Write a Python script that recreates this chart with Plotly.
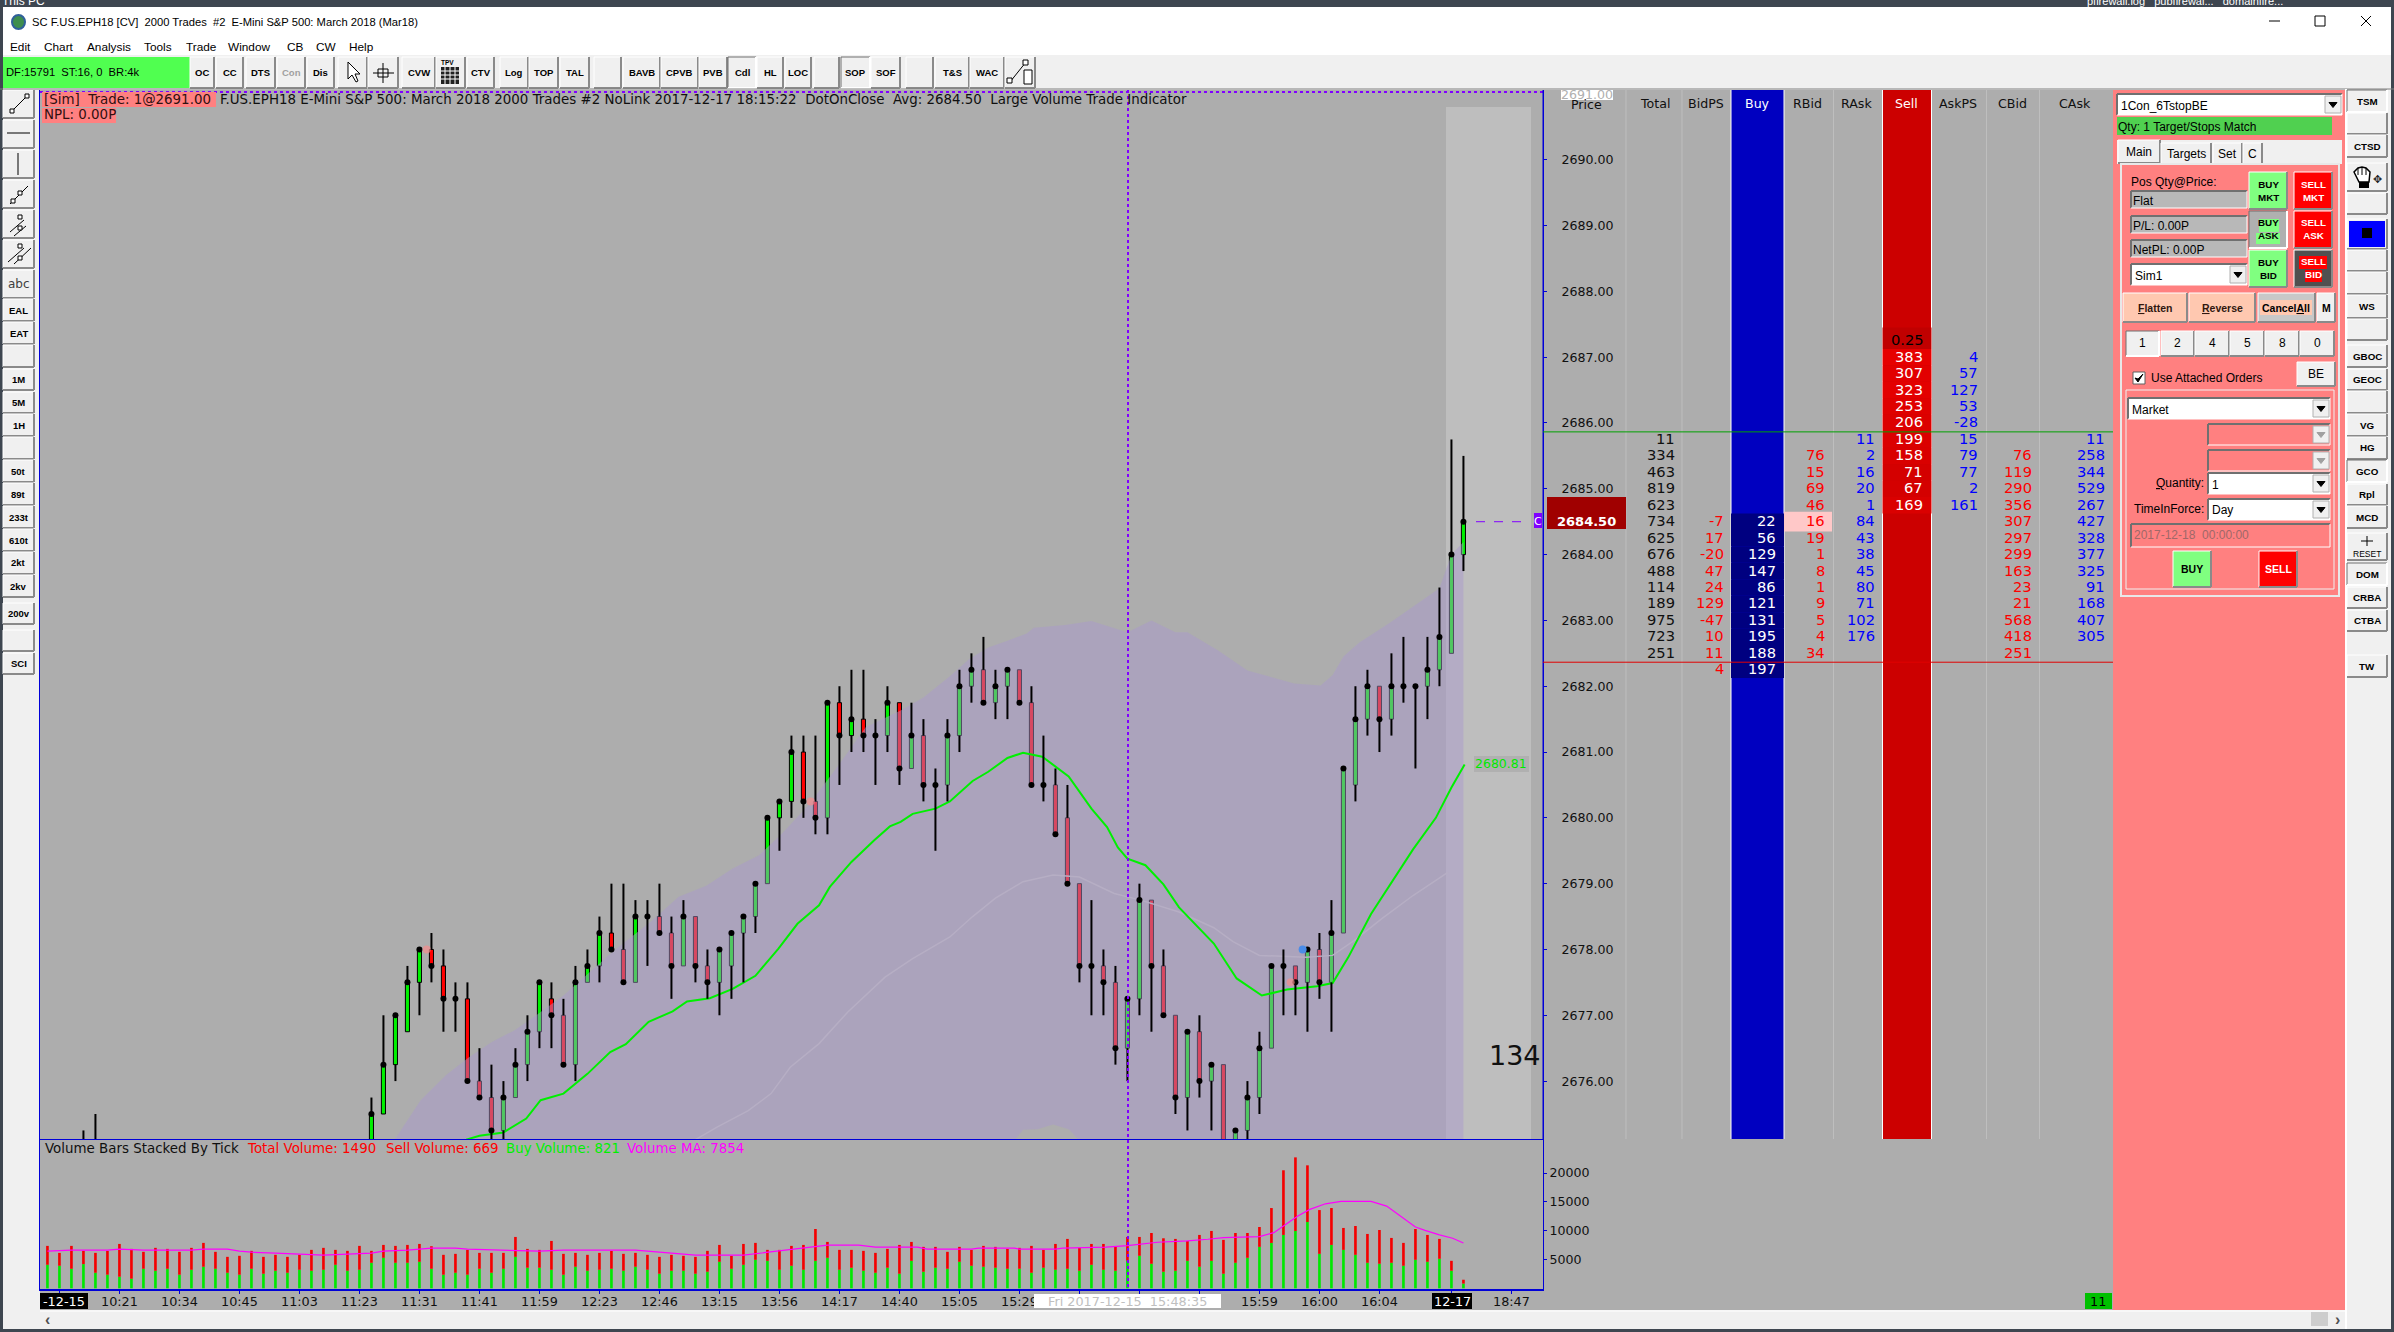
#!/usr/bin/env python3
# -*- coding: utf-8 -*-
import plotly.graph_objects as go

# ---- chart data ----
bar_idx = [3, 4] + list(range(27, 119))
bar_open = [2675, 2675, 2675, 2675.5, 2676.25, 2676.75, 2677.5, 2678, 2677.75, 2677.25,
            2677.25, 2676, 2675.75, 2675.25, 2675.75, 2676.25, 2676.75, 2677.25, 2677, 2676.25,
            2677.5, 2677.75, 2678.25, 2678, 2677.5, 2678.5, 2678.5, 2678.25, 2677.75, 2678.5,
            2677.75, 2677.5, 2677.75, 2678.25, 2678.5, 2679, 2680, 2680.25, 2681, 2680.25,
            2680, 2681.75, 2681.25, 2681.5, 2681.25, 2681.25, 2681.75, 2680.75, 2681.25, 2680.5,
            2680.5, 2681.25, 2682, 2682.25, 2681.75, 2682, 2682.25, 2681.75, 2680.5, 2680.5,
            2680, 2679, 2677.75, 2677.75, 2677.5, 2676.5, 2677.25, 2678.75, 2677.75, 2677,
            2675.75, 2676.75, 2676, 2676.25, 2675, 2675.25, 2675.75, 2676.5, 2677.75, 2677.75,
            2677.5, 2678, 2677.5, 2678.25, 2680.5, 2681.5, 2682, 2681.5, 2682, 2682,
            2682, 2682.25, 2682.5, 2684]
bar_high = [2675.25, 2675.5, 2675.75, 2677, 2677, 2677.75, 2678, 2678.25, 2678, 2677.5,
            2677.5, 2676.5, 2676.25, 2676, 2676.5, 2677, 2677.5, 2677.5, 2677.25, 2677.75,
            2678, 2678.5, 2679, 2679, 2678.75, 2678.75, 2679, 2678.5, 2678.75, 2678.5,
            2678, 2678, 2678.25, 2678.5, 2679, 2680, 2680.25, 2681.25, 2681.25, 2681.25,
            2681.75, 2682, 2682.25, 2682.25, 2681.5, 2682, 2681.75, 2681.75, 2681.5, 2680.75,
            2681.5, 2682.25, 2682.5, 2682.75, 2682.25, 2682.25, 2682.25, 2682, 2681.25, 2680.75,
            2680.5, 2679, 2678.75, 2678, 2677.75, 2677.25, 2679, 2678.75, 2678, 2677,
            2676.75, 2677, 2676.25, 2676.25, 2675.25, 2676, 2676.75, 2677.75, 2678, 2677.75,
            2678, 2678.25, 2678.75, 2680.75, 2682, 2682.25, 2682, 2682.5, 2682.75, 2682,
            2682.75, 2683.5, 2685.75, 2685.5]
bar_low = [2674.75, 2674.75, 2674.75, 2675.5, 2676, 2676.75, 2677, 2677.5, 2676.75, 2676.75,
           2676, 2675.75, 2675, 2675, 2675.75, 2676, 2676.5, 2676.5, 2676.25, 2676,
           2677.5, 2677.5, 2678, 2677.5, 2677.5, 2677.75, 2678.25, 2677.25, 2677.75, 2677.5,
           2677.25, 2677, 2677.25, 2677.5, 2678.25, 2679, 2679.5, 2680, 2680, 2679.75,
           2679.75, 2680.5, 2681, 2681, 2680.5, 2681, 2680.5, 2680.75, 2680.25, 2679.5,
           2680.25, 2681, 2681.75, 2681.75, 2681.5, 2681.5, 2681.75, 2680.5, 2680.25, 2679.75,
           2679, 2677.5, 2677, 2677, 2676.25, 2676, 2677, 2676.75, 2677, 2675.5,
           2675.25, 2675.75, 2675.25, 2675, 2675, 2675, 2675.5, 2676.5, 2677, 2677,
           2676.75, 2677.25, 2676.75, 2678.25, 2680.25, 2681.25, 2681, 2681.25, 2681.75, 2680.75,
           2681.5, 2682, 2682.5, 2683.75]
bar_close = [2675, 2675, 2675.5, 2676.25, 2677, 2677.5, 2678, 2677.75, 2677.25, 2677.25,
             2676, 2675.75, 2675.25, 2675.75, 2676.25, 2676.75, 2677.5, 2677, 2676.25, 2677.5,
             2677.75, 2678.25, 2678, 2677.5, 2678.5, 2678.5, 2678.25, 2677.75, 2678.5, 2677.75,
             2677.5, 2678, 2678.25, 2678.5, 2679, 2680, 2680.25, 2681, 2680.25, 2680,
             2681.75, 2681.25, 2681.5, 2681.25, 2681.25, 2681.75, 2680.75, 2681.25, 2680.5, 2680.5,
             2681.25, 2682, 2682.25, 2681.75, 2682, 2682.25, 2681.75, 2680.5, 2680.5, 2679.75,
             2679, 2677.75, 2677.75, 2677.5, 2676.5, 2677.25, 2678.75, 2677.75, 2677, 2675.75,
             2676.75, 2676, 2676.25, 2675, 2675.25, 2675.75, 2676.5, 2677.75, 2677.75, 2677.5,
             2678, 2677.5, 2678.25, 2680.75, 2681.5, 2682, 2681.5, 2682, 2682, 2682,
             2682.25, 2682.75, 2684, 2684.5]

band_x = [28.5, 28.9, 31.1, 33.2, 35.1, 37, 38.9, 40.5, 43, 45, 47.2, 50.4, 52.6, 54.9, 57.1, 59.3, 61.2, 63.5, 66, 68.2,
          71.1, 73, 75.2, 76.8, 78.4, 80, 81.6, 82.2, 84.8, 87, 88.6, 90, 92, 94, 95, 97.5, 100, 101.3, 103.9,
          106.1, 107.1, 108, 109.3, 111.9, 113.8, 116, 117, 118]
band_upper = [2674.9, 2675.1, 2675.71, 2676.09, 2676.36, 2676.59, 2676.77, 2676.97, 2677.3, 2677.63, 2677.98, 2678.44,
              2678.8, 2678.97, 2679.23, 2679.43, 2679.76, 2680.21, 2680.82, 2681.38, 2681.63, 2681.83, 2682.15,
              2682.41, 2682.59, 2682.69, 2682.8, 2682.89, 2682.93, 2682.99, 2682.9, 2682.82, 2683.0, 2682.82, 2682.82,
              2682.55, 2682.24, 2682.17, 2682.04, 2682.01, 2682.17, 2682.45, 2682.66, 2682.97, 2683.21, 2683.49, 2684.0, 2684.19]
band_lower_x = [28.5, 80, 80.6, 81.3, 82.5, 83.8, 85.1, 86, 87, 118]
band_lower = [2674.5, 2674.9, 2675.1, 2675.26, 2675.27, 2675.34, 2675.27, 2675.1, 2674.9, 2674.5]

ema_x = [34.9, 36, 38, 39.9, 41.1, 43, 45, 46.9, 48.2, 50.1, 52.1, 53.3, 55.2, 57.1, 59, 60.9, 62.5, 64.3, 65.2, 67, 68.9,
         70.2, 71.1, 72.1, 74, 75.2, 77.1, 78.4, 80, 81.3, 82.9, 85.1, 87, 88.3, 89.2, 90, 91.5, 93, 94.3, 95.9, 97.2, 99.1,
         101.2, 103.3, 105.8, 107.1, 108.4, 110.3, 111.9, 113.8, 115.7, 117, 118.1]
ema_y = [2675.11, 2675.17, 2675.22, 2675.43, 2675.71, 2675.81, 2676.11, 2676.44, 2676.56, 2676.9, 2677.06, 2677.21, 2677.26,
         2677.4, 2677.6, 2678.01, 2678.39, 2678.67, 2678.95, 2679.33, 2679.66, 2679.87, 2679.94, 2680.06, 2680.14, 2680.25,
         2680.56, 2680.7, 2680.91, 2680.99, 2680.93, 2680.63, 2680.14, 2679.86, 2679.55, 2679.38, 2679.28, 2678.99, 2678.64,
         2678.33, 2678.09, 2677.56, 2677.3, 2677.39, 2677.44, 2677.49, 2677.88, 2678.54, 2678.99, 2679.52, 2680.0, 2680.46, 2680.81]

mid_x = [53.9, 55.8, 58.4, 60.3, 61.9, 64.3, 66.7, 69.8, 72.1, 75.2, 77.1, 79, 81.3, 83.8, 86, 88.9, 91.1, 94.3, 97.2, 98.8,
         101, 104.9, 107.1, 109, 111.2, 113.8, 116.7]
mid_y = [2675.1, 2675.3, 2675.55, 2675.81, 2676.21, 2676.57, 2677.05, 2677.58, 2677.86, 2678.19, 2678.5, 2678.78, 2679.03,
         2679.13, 2679.1, 2678.85, 2678.75, 2678.57, 2678.33, 2678.12, 2677.91, 2677.88, 2677.91, 2678.15, 2678.47, 2678.82, 2679.17]

big_sell_x = [31.6, 63.6, 103.6]
big_sell_y = [2678.0, 2680.25, 2677.5]
big_buy_x = [104.6]
big_buy_y = [2678.0]

vol_total = [7360, 6150, 7360, 6500, 6150, 6500, 7700, 6840, 6330, 7020,
             6840, 6330, 7020, 7880, 6330, 5460, 5640, 6500, 5460, 5810,
             5460, 5810, 6670, 7020, 6670, 6500, 7360, 6500, 7530, 7360,
             7530, 7700, 7300, 5810, 5980, 6670, 6150, 6150, 6150, 8910,
             6840, 6670, 8220, 5980, 6150, 5810, 6150, 6500, 5980, 6150,
             5810, 5460, 5810, 5640, 5460, 6500, 7530, 5640, 7700, 7880,
             6670, 6670, 7360, 7530, 10290, 8050, 6670, 6670, 6500, 6150,
             6840, 7530, 8050, 7190, 7190, 6330, 7190, 6670, 7360, 7190,
             6840, 7020, 7360, 6670, 7700, 8570, 7020, 7700, 7700, 7190,
             8910, 8910, 9600, 8680, 8570, 8220, 9260, 9950, 8400, 9600,
             9600, 10640, 13920, 20470, 22710, 21330, 13570, 13920, 10470, 10810,
             9430, 10120, 8740, 7880, 10290, 9260, 8570, 4770, 1490]
vol_buy = [4080, 3910, 3390, 4200, 2700, 2360, 2010, 1670, 3390, 3050,
           3390, 2360, 3220, 3740, 3390, 2700, 2360, 3390, 2530, 3050,
           2700, 3220, 3050, 3220, 4080, 3050, 3220, 4430, 5290, 4430,
           4430, 4600, 3390, 2360, 2700, 2360, 3390, 2700, 3390, 5460,
           3570, 3570, 3220, 2360, 3740, 3050, 3220, 3390, 3050, 3740,
           3220, 2530, 3050, 3050, 2530, 2880, 4600, 3390, 4080, 4950,
           4770, 3220, 3910, 3220, 4770, 5290, 3220, 3570, 3050, 2700,
           3570, 2530, 4770, 2880, 3570, 3390, 4600, 3910, 3740, 3570,
           3390, 3390, 2700, 3570, 3220, 3390, 3050, 4080, 3220, 3050,
           4770, 5640, 4260, 2880, 3050, 4770, 3740, 4770, 2530, 4430,
           5290, 7190, 7880, 9260, 9950, 11500, 5980, 7530, 6670, 5810,
           4430, 4260, 4430, 3910, 4950, 4600, 5120, 3050, 821]
vol_sell = [t - b for t, b in zip(vol_total, vol_buy)]

vol_ma_x = [0, 2, 5, 6, 8, 12, 13, 15, 16, 17, 19, 21, 23, 25, 27, 28, 30, 32, 34, 35, 38, 41, 43, 49, 51, 54, 58, 60, 62.7,
            64, 65, 67.6, 69, 72.5, 73.3, 77, 77.6, 80.6, 81, 84, 84.6, 88.2, 90, 92.5, 95, 96.7, 98, 101, 102.2, 103, 104.2,
            105.2, 106.5, 107.8, 110.3, 111.6, 112.9, 114, 114.8, 116, 117.1, 118]
vol_ma = [6440, 6610, 6610, 6790, 6610, 6610, 6790, 6790, 6440, 6270, 6100, 5920, 5750, 5920, 6100, 6440, 6610, 6960, 6960, 6790,
          6610, 6440, 6610, 6610, 6270, 5750, 5750, 6270, 6900, 7300, 7480, 7480, 7130, 7130, 6790, 6790, 6960, 6960, 6790, 6790,
          6960, 7130, 7420, 7990, 8220, 8510, 8800, 8970, 9660, 10810, 12540, 13690, 14660, 15070, 15070, 14260, 12250, 10640,
          10060, 9260, 8680, 7854]

time_tick_idx = [1, 6, 11, 16, 21, 26, 31, 36, 41, 46, 51, 56, 61, 66, 71, 76, 81, 86, 91, 96, 101, 106, 111, 117, 122]
time_tick_text = ["", "10:21", "10:34", "10:45", "11:03", "11:23", "11:31", "11:41", "11:59", "12:23", "12:46", "13:15",
                  "13:56", "14:17", "14:40", "15:05", "15:29", "", "", "", "15:59", "16:00", "16:04", "", "18:47"]
price_ticks = [2676, 2677, 2678, 2679, 2680, 2681, 2682, 2683, 2684, 2685, 2686, 2687, 2688, 2689, 2690]
volume_ticks = [5000, 10000, 15000, 20000]

# depth table, one entry per price row
dom_prices = [2687.25, 2687.0, 2686.75, 2686.5, 2686.25, 2686.0, 2685.75, 2685.5, 2685.25, 2685.0, 2684.75,
              2684.5, 2684.25, 2684.0, 2683.75, 2683.5, 2683.25, 2683.0, 2682.75, 2682.5, 2682.25]
_ = None
dom_total = [_, _, _, _, _, _, 11, 334, 463, 819, 623, 734, 625, 676, 488, 114, 189, 975, 723, 251, _]
dom_bidps = [_, _, _, _, _, _, _, _, _, _, _, -7, 17, -20, 47, 24, 129, -47, 10, 11, 4]
dom_buy = [_, _, _, _, _, _, _, _, _, _, _, 22, 56, 129, 147, 86, 121, 131, 195, 188, 197]
dom_rbid = [_, _, _, _, _, _, _, 76, 15, 69, 46, 16, 19, 1, 8, 1, 9, 5, 4, 34, _]
dom_rask = [_, _, _, _, _, _, 11, 2, 16, 20, 1, 84, 43, 38, 45, 80, 71, 102, 176, _, _]
dom_sell = [_, 383, 307, 323, 253, 206, 199, 158, 71, 67, 169, _, _, _, _, _, _, _, _, _, _]
dom_askps = [_, 4, 57, 127, 53, -28, 15, 79, 77, 2, 161, _, _, _, _, _, _, _, _, _, _]
dom_cbid = [_, _, _, _, _, _, _, 76, 119, 290, 356, 307, 297, 299, 163, 23, 21, 568, 418, 251, _]
dom_cask = [_, _, _, _, _, _, 11, 258, 344, 529, 267, 427, 328, 377, 325, 91, 168, 407, 305, _, _]

# ---- page geometry ----
W, H = 2394, 1332
PLOT_L, PLOT_R = 40, 1543
PRICE_T, PRICE_B, VOL_B = 90, 1139, 1289
GRAY = "#ADADAD"
FACE = "#F0F0F0"
PINK = "#FF8080"
BLUE = "#0000D8"
PURPLE = "#8000FF"
CHART_FONT = "DejaVu Sans"
UI_FONT = "Liberation Sans"

shapes = []
notes = []


def fx(px):
    return px / W


def fy(py):
    return 1 - py / H


def rect(x0, y0, x1, y1, fill=None, line=None, lw=1, layer="above"):
    shapes.append(dict(type="rect", xref="paper", yref="paper", x0=fx(x0), x1=fx(x1), y0=fy(y0), y1=fy(y1),
                       fillcolor=fill if fill else "rgba(0,0,0,0)",
                       line=dict(color=line if line else "rgba(0,0,0,0)", width=lw if line else 0), layer=layer))


def hline(x0, x1, y, color, lw=1, dash=None, layer="above"):
    shapes.append(dict(type="line", xref="paper", yref="paper", x0=fx(x0), x1=fx(x1), y0=fy(y), y1=fy(y),
                       line=dict(color=color, width=lw, dash=dash), layer=layer))


def vline(x, y0, y1, color, lw=1, dash=None, layer="above"):
    shapes.append(dict(type="line", xref="paper", yref="paper", x0=fx(x), x1=fx(x), y0=fy(y0), y1=fy(y1),
                       line=dict(color=color, width=lw, dash=dash), layer=layer))


def seg(x0, y0, x1, y1, color="#000000", lw=1):
    shapes.append(dict(type="line", xref="paper", yref="paper", x0=fx(x0), x1=fx(x1), y0=fy(y0), y1=fy(y1),
                       line=dict(color=color, width=lw)))


def path(points, fill, line="#000000", lw=1):
    d = "M" + " L".join("%.5f,%.5f" % (fx(a), fy(b)) for a, b in points) + " Z"
    shapes.append(dict(type="path", xref="paper", yref="paper", path=d, fillcolor=fill, line=dict(color=line, width=lw)))


def text(x, y, s, size=12, color="#000000", anchor="left", font=UI_FONT, bold=False, bg=None):
    notes.append(dict(xref="paper", yref="paper", x=fx(x), y=fy(y), text="<b>%s</b>" % s if bold else s, showarrow=False,
                      xanchor=anchor, yanchor="middle", font=dict(family=font, size=size, color=color),
                      borderpad=0, borderwidth=0, bgcolor=bg))


def sunken(x0, y0, x1, y1, fill):
    rect(x0, y0, x1, y1, fill)
    hline(x0, x1, y0, "#707070", 2)
    vline(x0, y0, y1, "#707070", 2)
    hline(x0, x1, y1, "#FFFFFF", 1)
    vline(x1, y0, y1, "#FFFFFF", 1)


def button(x0, y0, x1, y1, label="", fill=FACE, color="#000000", size=9.5, bold=True, font=UI_FONT, pressed=False):
    rect(x0, y0, x1, y1, fill)
    hi, lo = ("#707070", "#FFFFFF") if pressed else ("#FFFFFF", "#8A8A8A")
    hline(x0, x1, y0, hi, 1)
    vline(x0, y0, y1, hi, 1)
    hline(x0, x1, y1, lo, 2)
    vline(x1, y0, y1, lo, 2)
    if label:
        text((x0 + x1) / 2, (y0 + y1) / 2, label, size, color, "center", font, bold)


def combo(x0, y0, x1, y1, label="", fill="#FFFFFF", arrow="#000000"):
    sunken(x0, y0, x1, y1, fill)
    rect(x1 - 17, y0 + 2, x1 - 1, y1 - 2, FACE, "#B0B0B0")
    mid_x, mid_y = x1 - 9, (y0 + y1) / 2
    path([(mid_x - 4, mid_y - 2), (mid_x + 4, mid_y - 2), (mid_x, mid_y + 3)], arrow, arrow)
    if label:
        text(x0 + 4, (y0 + y1) / 2 + 1, label, 12)


# ---- window chrome ----
rect(0, 0, W, 7, "#3E4650")
rect(0, 7, W, 55, "#FFFFFF")
rect(0, 1329, W, H, "#3E4650")
rect(0, 0, 3, H, "#3E4650")
rect(W - 3, 0, W, H, "#3E4650")
text(2, 1, "This PC", 12, "#FFFFFF")
text(2087, 1, "pfirewall.log   pubfirewal...   domainfire...", 11, "#FFFFFF")
shapes.append(dict(type="circle", xref="paper", yref="paper", x0=fx(12), x1=fx(25), y0=fy(15), y1=fy(29),
                   fillcolor="#3E8E4E", line=dict(color="#30609A", width=2)))
text(32, 22, "SC F.US.EPH18 [CV]  2000 Trades  #2  E-Mini S&amp;P 500: March 2018 (Mar18)", 11.2)
hline(2269, 2280, 21, "#000000", 1)
rect(2315, 16, 2325, 26, None, "#000000", 1)
seg(2361, 16, 2371, 26)
seg(2371, 16, 2361, 26)
menu_names = ["Edit", "Chart", "Analysis", "Tools", "Trade", "Window", "CB", "CW", "Help"]
menu_left = [10, 44, 87, 144, 186, 228, 287, 316, 349]
for name, px in zip(menu_names, menu_left):
    text(px, 47, name, 11.8)

# top toolbar
rect(3, 57, 190, 88, "#50FF50")
text(6, 72, "DF:15791  ST:16, 0  BR:4k", 11.2, "#000000", font=UI_FONT)
tool_left = [190, 216, 246, 277, 307, 338, 368, 402, 436, 467, 500, 529, 560, 594, 623, 661, 699, 728, 757, 785, 814, 841, 871, 906, 935, 970, 1005]
tool_right = [214, 243, 275, 305, 334, 367, 398, 435, 465, 494, 528, 558, 589, 621, 660, 698, 727, 756, 783, 811, 839, 870, 900, 933, 969, 1004, 1035]
tool_names = ["OC", "CC", "DTS", "Con", "Dis", "", "", "CVW", "", "CTV", "Log", "TOP", "TAL", "", "BAVB", "CPVB", "PVB", "Cdl", "HL", "LOC", "", "SOP", "SOF", "", "T&amp;S", "WAC", ""]
for a, b, name in zip(tool_left, tool_right, tool_names):
    pressed = name in ("Cdl", "SOP")
    button(a, 57, b, 88, name, color="#A0A0A0" if name == "Con" else "#000000", pressed=pressed)
path([(348, 62), (348, 79), (352, 75), (356, 82), (358, 81), (355, 74), (360, 74)], "#FFFFFF")
seg(373, 73, 394, 73, "#000000", 1)
vline(383, 63, 83, "#000000", 1)
rect(378, 69, 388, 77, None, "#000000", 1)
rect(441, 67, 459, 84, "#202020")
for grid_y in (71, 75, 79):
    hline(441, 459, grid_y, "#FFFFFF", 1)
for grid_x in (445, 450, 455):
    vline(grid_x, 67, 84, "#FFFFFF", 1)
text(447, 62, "TPV", 6.5, bold=True, anchor="center")
seg(1010, 82, 1026, 62)
rect(1007, 78, 1012, 83, "#FFFFFF", "#000000")
rect(1023, 60, 1028, 65, "#FFFFFF", "#000000")
rect(1024, 70, 1032, 84, "#FFFFFF", "#000000")

# left toolbar
side_top = [90, 120, 150, 180, 210, 240, 270, 299, 322, 345, 369, 392, 414, 437, 460, 483, 506, 529, 552, 575, 603, 630, 653]
side_bot = [118, 148, 178, 208, 238, 268, 298, 321, 344, 367, 390, 413, 436, 459, 482, 505, 528, 551, 574, 597, 624, 651, 674]
side_names = ["", "", "", "", "", "", "abc", "EAL", "EAT", "", "1M", "5M", "1H", "", "50t", "89t", "233t", "610t", "2kt", "2kv", "200v", "", "SCI"]
for a, b, name in zip(side_top, side_bot, side_names):
    if name == "abc":
        button(3, a, 34, b, name, size=12, bold=False, font="DejaVu Sans", color="#404040")
    else:
        button(3, a, 34, b, name)
seg(12, 111, 27, 96)
rect(10, 109, 14, 113, "#FFFFFF", "#000000")
rect(25, 94, 29, 98, "#FFFFFF", "#000000")
hline(7, 30, 133, "#000000", 1)
vline(18, 153, 175, "#000000", 1)
seg(10, 204, 28, 186)
rect(11, 199, 15, 203, "#FFFFFF", "#000000")
rect(18, 191, 22, 195, "#FFFFFF", "#000000")
seg(10, 232, 24, 220)
seg(14, 236, 26, 226)
rect(18, 215, 22, 219, "#FFFFFF", "#000000")
rect(18, 226, 22, 230, "#FFFFFF", "#000000")
seg(8, 262, 24, 248)
seg(14, 264, 31, 248)
rect(18, 244, 22, 248, "#FFFFFF", "#000000")
rect(18, 256, 22, 260, "#FFFFFF", "#000000")

# chart panel backgrounds
rect(3, 89, PLOT_L, 1310, FACE, layer="below")
rect(PLOT_L, VOL_B, 2113, 1310, GRAY, layer="below")
rect(PLOT_R, PRICE_B, 2113, 1310, GRAY, layer="below")
rect(1446, 107, 1531, PRICE_B, "#BEBEBE", layer="below")
hline(0, W, 89, "#808080", 1)

# ---- price and volume panels ----
fig = go.Figure()

upper_and_lower_x = band_x + band_lower_x[::-1]
upper_and_lower_y = band_upper + band_lower[::-1]
fig.add_trace(go.Scatter(x=upper_and_lower_x, y=upper_and_lower_y, mode="lines", fill="toself",
                         fillcolor="rgba(169,152,207,0.47)", line=dict(width=0), xaxis="x", yaxis="y"))
fig.add_trace(go.Scatter(x=mid_x, y=mid_y, mode="lines", line=dict(color="#B6AEC4", width=1.5), xaxis="x", yaxis="y"))
fig.add_trace(go.Scatter(x=ema_x, y=ema_y, mode="lines", line=dict(color="#00F000", width=2), xaxis="x", yaxis="y"))

# bars sit under scatter lines in plotly, so the wick is split around the body
wick_x, wick_y = [], []
for i, o, hi_v, lo_v, c in zip(bar_idx, bar_open, bar_high, bar_low, bar_close):
    wick_x += [i, i, None, i, i, None]
    wick_y += [hi_v, max(o, c), None, min(o, c), lo_v, None]
fig.add_trace(go.Scatter(x=wick_x, y=wick_y, mode="lines", line=dict(color="#000000", width=2), xaxis="x", yaxis="y"))

body_base = [min(o, c) for o, c in zip(bar_open, bar_close)]
body_size = [abs(o - c) for o, c in zip(bar_open, bar_close)]
body_color = ["#00F000" if c >= o else "#FF0000" for o, c in zip(bar_open, bar_close)]
fig.add_trace(go.Bar(x=bar_idx, y=body_size, base=body_base, width=0.34,
                     marker=dict(color=body_color, opacity=1, line=dict(color="#000000", width=1)),
                     xaxis="x", yaxis="y"))
fig.add_trace(go.Scatter(x=bar_idx, y=bar_close, mode="markers", marker=dict(color="#000000", size=6, symbol="circle"), xaxis="x", yaxis="y"))
fig.add_trace(go.Scatter(x=big_sell_x, y=big_sell_y, mode="markers", marker=dict(color="rgba(245,140,140,0.7)", size=8), xaxis="x", yaxis="y"))
fig.add_trace(go.Scatter(x=big_buy_x, y=big_buy_y, mode="markers", marker=dict(color="#4A8CE8", size=8), xaxis="x", yaxis="y"))

vol_x = list(range(len(vol_total)))
fig.add_trace(go.Bar(x=vol_x, y=vol_buy, width=0.22, marker=dict(color="#00E800", opacity=1, line=dict(width=0)), xaxis="x2", yaxis="y2"))
fig.add_trace(go.Bar(x=vol_x, y=vol_sell, base=vol_buy, width=0.22, marker=dict(color="#F40000", opacity=1, line=dict(width=0)), xaxis="x2", yaxis="y2"))
fig.add_trace(go.Scatter(x=vol_ma_x, y=vol_ma, mode="lines", line=dict(color="#FF00FF", width=1.2), xaxis="x2", yaxis="y2"))

# chart overlays
vline(1128, PRICE_T, VOL_B, PURPLE, 2, "dot")
hline(PLOT_L, PLOT_R, 92, PURPLE, 2, "dot")
shapes.append(dict(type="line", xref="paper", yref="y", x0=fx(1476), x1=fx(1526), y0=2684.5, y1=2684.5,
                   line=dict(color=PURPLE, width=1, dash="dash")))
rect(1534, 513, 1542, 528, PURPLE)
text(1538, 521, "C", 11, "#FFFFFF", "center", CHART_FONT)
rect(42, 92, 216, 107, PINK)
rect(42, 108, 116, 123, PINK)
text(44, 100, "[Sim]  Trade: 1@2691.00", 13.4, "#301010", font=CHART_FONT)
text(220, 100, "F.US.EPH18 E-Mini S&amp;P 500: March 2018 2000 Trades #2 NoLink 2017-12-17 18:15:22  DotOnClose  Avg: 2684.50  Large Volume Trade Indicator",
     13.4, "#101010", font=CHART_FONT)
text(44, 115, "NPL: 0.00P", 13.4, "#301010", font=CHART_FONT)
text(1515, 1055, "134", 27, "#101010", "center", CHART_FONT)
rect(1474, 756, 1529, 772, "#B0B0B0")
text(1501, 764, "2680.81", 12.5, "#00E800", "center", CHART_FONT)

text(45, 1148, "Volume Bars Stacked By Tick", 13.4, "#101010", font=CHART_FONT)
text(247, 1148, "Total Volume: 1490", 13.4, "#FF0000", font=CHART_FONT)
text(386, 1148, "Sell Volume: 669", 13.4, "#FF0000", font=CHART_FONT)
text(506, 1148, "Buy Volume: 821", 13.4, "#00F000", font=CHART_FONT)
text(627, 1148, "Volume MA: 7854", 13.4, "#FF00FF", font=CHART_FONT)

rect(40, 1293, 88, 1309, "#000000")
text(64, 1301, "-12-15", 12.8, "#FFFFFF", "center", CHART_FONT)
rect(1432, 1293, 1472, 1309, "#000000")
text(1452, 1301, "12-17", 12.8, "#FFFFFF", "center", CHART_FONT)
rect(1034, 1294, 1221, 1308, "#FFFFFF")
text(1127, 1301, "Fri 2017-12-15  15:48:35", 12.8, "#C0C0C0", "center", CHART_FONT)
rect(2085, 1293, 2112, 1309, "#00C000")
text(2098, 1301, "11", 12.8, "#000000", "center", CHART_FONT)

# scrollbar
rect(40, 1311, 2345, 1328, FACE)
hline(40, 2345, 1311, "#FFFFFF", 1)
text(47, 1319, "‹", 16, "#505050", "center", bold=True)
rect(2311, 1312, 2328, 1326, "#CDCDCD")
text(2337, 1319, "›", 16, "#505050", "center", bold=True)

# ---- depth table ----
rect(PLOT_R, PRICE_T, 2113, PRICE_B, GRAY, layer="below")
rect(1731, PRICE_T, 1784, PRICE_B, "#0000C0")
rect(1882.5, PRICE_T, 1931.5, PRICE_B, "#CC0000")
for sep_x in (1626, 1682, 1833.5, 1986.5, 2039.5):
    vline(sep_x, PRICE_T, PRICE_B, "#BEBEBE", 1)
for sep_x in (1731, 1784, 1882.5, 1931.5):
    vline(sep_x, PRICE_T, PRICE_B, "#FFFFFF", 1)
vline(PLOT_R, PRICE_T, PRICE_B, BLUE, 1)

tick_half = 0.125
for price, buy_v, sell_v in zip(dom_prices, dom_buy, dom_sell):
    if buy_v is not None:
        shapes.append(dict(type="rect", xref="paper", yref="y", x0=fx(1731), x1=fx(1784), y0=price - tick_half, y1=price + tick_half,
                           fillcolor="#000080", line=dict(width=0)))
    if sell_v is not None:
        shade = 208 + int(sell_v * 0.06)
        shapes.append(dict(type="rect", xref="paper", yref="y", x0=fx(1882.5), x1=fx(1931.5), y0=price - tick_half, y1=price + tick_half,
                           fillcolor="rgb(%d,0,0)" % shade, line=dict(width=0)))
shapes.append(dict(type="rect", xref="paper", yref="y", x0=fx(1882.5), x1=fx(1931.5), y0=dom_prices[0] - tick_half, y1=dom_prices[0] + 0.2,
                   fillcolor="#C00000", line=dict(width=0)))
shapes.append(dict(type="rect", xref="paper", yref="y", x0=fx(1784), x1=fx(1832), y0=2684.5 - 0.15, y1=2684.5 + 0.15,
                   fillcolor="#FFC8C8", line=dict(width=0)))
for y_line, color in ((2685.865, "#00A000"), (2682.365, "#E00000")):
    shapes.append(dict(type="line", xref="paper", yref="y", x0=fx(PLOT_R), x1=fx(2113), y0=y_line, y1=y_line, line=dict(color=color, width=1)))

table_columns = [(dom_total, 1676, "#101010"), (dom_bidps, 1724.5, "#FF0000"), (dom_buy, 1777.5, "#FFFFFF"), (dom_rbid, 1826, "#FF0000"),
                 (dom_rask, 1875.5, "#0000FF"), (dom_sell, 1924, "#FFFFFF"), (dom_askps, 1979, "#0000FF"), (dom_cbid, 2032.5, "#FF0000"),
                 (dom_cask, 2105.5, "#0000FF")]
for column, right, color in table_columns:
    for price, value in zip(dom_prices, column):
        if value is not None:
            notes.append(dict(xref="paper", yref="y", x=fx(right), y=price, text=str(value), showarrow=False, xanchor="right", yanchor="middle",
                              font=dict(family=CHART_FONT, size=14.7, color=color), borderpad=0, yshift=1))
notes.append(dict(xref="paper", yref="y", x=fx(1925), y=dom_prices[0], text="0.25", showarrow=False, xanchor="right", yanchor="middle",
                  font=dict(family=CHART_FONT, size=14.7, color="#000000"), borderpad=0, yshift=1))

header_names = ["Total", "BidPS", "Buy", "RBid", "RAsk", "Sell", "AskPS", "CBid", "CAsk"]
header_center = [1655, 1706, 1757, 1807, 1856.5, 1906, 1958, 2012, 2075]
for name, px in zip(header_names, header_center):
    text(px, 103, name, 12.6, "#FFFFFF" if name in ("Buy", "Sell") else "#101010", "center", CHART_FONT)
rect(1561, 90, 1613, 100, "#FFFFFF")
text(1587, 95, "2691.00", 12.6, "#B0B0B0", "center", CHART_FONT)
text(1586, 104, "Price", 12.6, "#101010", "center", CHART_FONT)
rect(1547, 497, 1626, 529, "#A00000")
text(1586, 521, "2684.50", 13, "#FFFFFF", "center", CHART_FONT, bold=True)

# ---- order panel ----
rect(2113, PRICE_T, 2345, 1310, PINK)
combo(2117, 94, 2342, 115, "1Con_6TstopBE")
rect(2117, 117, 2332, 135, "#50D050")
text(2118, 127, "Qty: 1 Target/Stops Match", 12)
rect(2117, 140, 2342, 164, FACE)
button(2118, 140, 2160, 163, "Main", bold=False, size=12)
button(2161, 143, 2211, 164, "Targets", bold=False, size=12)
button(2213, 143, 2242, 164, "Set", bold=False, size=12)
button(2243, 143, 2262, 164, "C", bold=False, size=12)
rect(2121, 164, 2339, 596, PINK, "#E8E8E8", 2)
text(2131, 182, "Pos Qty@Price:", 12)
for top, bot, label in ((191, 208, "Flat"), (216, 233, "P/L: 0.00P"), (240, 257, "NetPL: 0.00P")):
    sunken(2131, top, 2247, bot, "#B8B8B8")
    text(2133, (top + bot) / 2 + 1, label, 12)
combo(2131, 264, 2247, 285, "Sim1")

button(2249, 172, 2287, 209, "BUY<br>MKT", "#80FF80", size=9.8)
button(2294, 172, 2332, 209, "SELL<br>MKT", "#FF0000", "#FFFFFF", size=9.8)
button(2249, 211, 2287, 248, "", "#B0B0B0", pressed=True)
rect(2259, 219, 2279, 232, "#80FF80")
rect(2256, 233, 2280, 244, "#80FF80")
text(2268, 229, "BUY<br>ASK", 9.8, anchor="center", bold=True)
button(2294, 211, 2332, 248, "SELL<br>ASK", "#FF0000", "#FFFFFF", size=9.8)
button(2249, 250, 2287, 287, "BUY<br>BID", "#80FF80", size=9.8)
button(2294, 250, 2332, 287, "", "#505050")
rect(2299, 256, 2327, 269, "#FF0000")
rect(2305, 270, 2322, 282, "#FF0000")
text(2313, 268, "SELL<br>BID", 9.8, "#FFFFFF", "center", bold=True)

button(2123, 293, 2187, 322, "<u>F</u>latten", "#FFC8B0", size=10.5, color="#301810")
button(2189, 293, 2255, 322, "<u>R</u>everse", "#FFC8B0", size=10.5, color="#301810")
button(2258, 293, 2315, 322, "", "#C8C8C8")
rect(2260, 300, 2312, 315, "#FFC8B0")
text(2286, 308, "Cancel<u>A</u>ll", 10.5, anchor="center", bold=True)
button(2317, 293, 2335, 322, "M", size=10.5)

qty_left = [2126, 2161, 2195, 2230, 2265, 2300]
qty_right = [2159, 2194, 2229, 2264, 2299, 2334]
qty_names = ["1", "2", "4", "5", "8", "0"]
for a, b, name in zip(qty_left, qty_right, qty_names):
    button(a, 331, b, 356, name, bold=False, size=12, pressed=name == "1")

rect(2133, 372, 2145, 384, "#FFFFFF", "#606060")
path([(2135, 378), (2138, 382), (2143, 374), (2138, 379)], "#000000")
text(2151, 378, "Use Attached Orders", 12)
button(2297, 362, 2335, 386, "BE", bold=False, size=12)
rect(2126, 390, 2334, 589, None, "#F0F0F0", 1)
combo(2128, 398, 2330, 419, "Market")
combo(2208, 424, 2330, 445, "", PINK, "#A0A0A0")
combo(2208, 450, 2330, 471, "", PINK, "#A0A0A0")
combo(2208, 473, 2330, 494, "1")
combo(2208, 499, 2330, 520, "Day")
text(2204, 483, "<u>Q</u>uantity:", 12, anchor="right")
text(2204, 509, "TimeInForce:", 12, anchor="right")
sunken(2131, 524, 2330, 547, PINK)
text(2134, 535, "2017-12-18  00:00:00", 12, "#A06868")
button(2173, 551, 2211, 587, "BUY", "#80FF80", size=10.5)
button(2259, 551, 2297, 587, "SELL", "#FF0000", "#FFFFFF", size=10.5)

# ---- right toolbar ----
rect(2345, 89, 2391, 1329, FACE, layer="below")
vline(2346, 89, 1329, "#FFFFFF", 2)
right_top = [90, 113, 135, 163, 193, 219, 250, 272, 295, 319, 345, 369, 391, 414, 437, 460, 484, 506, 533, 563, 587, 610, 655]
right_bot = [112, 134, 157, 191, 214, 249, 271, 294, 318, 340, 367, 390, 413, 436, 459, 482, 505, 528, 560, 585, 608, 631, 677]
right_names = ["TSM", "", "CTSD", "", "", "", "", "", "WS", "", "GBOC", "GEOC", "", "VG", "HG", "GCO", "Rpl", "MCD", "", "DOM", "CRBA", "CTBA", "TW"]
for a, b, name in zip(right_top, right_bot, right_names):
    button(2347, a, 2387, b, name, size=9.8, pressed=name in ("TSM", "GCO", "DOM"))
rect(2349, 221, 2385, 247, "#0000FF")
rect(2362, 228, 2372, 238, "#000000")
path([(2354, 172), (2358, 168), (2362, 167), (2366, 168), (2370, 172), (2369, 182), (2359, 182)], "#FFFFFF", "#000000", 1.5)
for finger_x in (2358, 2362, 2366):
    vline(finger_x, 168, 175, "#000000", 1)
rect(2359, 182, 2369, 188, "#000000")
text(2377, 180, "✥", 11, "#202020", "center", font="DejaVu Sans")
vline(2367, 536, 546, "#000000", 1)
hline(2361, 2373, 541, "#000000", 1)
text(2367, 554, "RESET", 8.5, anchor="center")

# ---- layout ----
fig.update_layout(
    width=W, height=H, margin=dict(l=0, r=0, t=0, b=0), showlegend=False, barmode="overlay",
    paper_bgcolor=FACE, plot_bgcolor=GRAY, hovermode=False, shapes=shapes, annotations=notes,
    xaxis=dict(domain=[fx(PLOT_L), fx(PLOT_R)], range=[-0.62, 124.63], anchor="y", showticklabels=False, ticks="", showgrid=False,
               zeroline=False, showline=True, linecolor=BLUE, linewidth=1),
    yaxis=dict(domain=[fy(PRICE_B), fy(PRICE_T)], range=[2675.12, 2691.06], anchor="x", side="right", tickvals=price_ticks,
               ticktext=["%.2f" % p for p in price_ticks], ticks="outside", ticklen=3, tickcolor=BLUE, showgrid=False, zeroline=False,
               ticklabelstandoff=12, tickfont=dict(family=CHART_FONT, size=12.6, color="#101010"),
               showline=True, linecolor=BLUE, linewidth=1, mirror=True),
    xaxis2=dict(domain=[fx(PLOT_L), fx(PLOT_R)], range=[-0.62, 124.63], anchor="y2", tickvals=time_tick_idx, ticktext=time_tick_text,
                ticks="outside", ticklen=3, tickcolor=BLUE, showgrid=False, zeroline=False, showline=True, linecolor=BLUE, linewidth=1.5,
                tickangle=0, ticklabelstandoff=-3, tickfont=dict(family=CHART_FONT, size=12.8, color="#101010")),
    yaxis2=dict(domain=[fy(VOL_B), fy(PRICE_B)], range=[-116, 25895], anchor="x2", side="right", tickvals=volume_ticks, ticktext=[str(v) for v in volume_ticks],
                ticks="outside", ticklen=3, tickcolor=BLUE, showgrid=False, zeroline=False, showline=True, linecolor=BLUE, linewidth=1, mirror=True,
                tickfont=dict(family=CHART_FONT, size=12.6, color="#101010")),
)

fig.write_html("out.html", config=dict(displayModeBar=False),
               post_script="document.body.style.margin='0';document.body.style.overflow='hidden';")
